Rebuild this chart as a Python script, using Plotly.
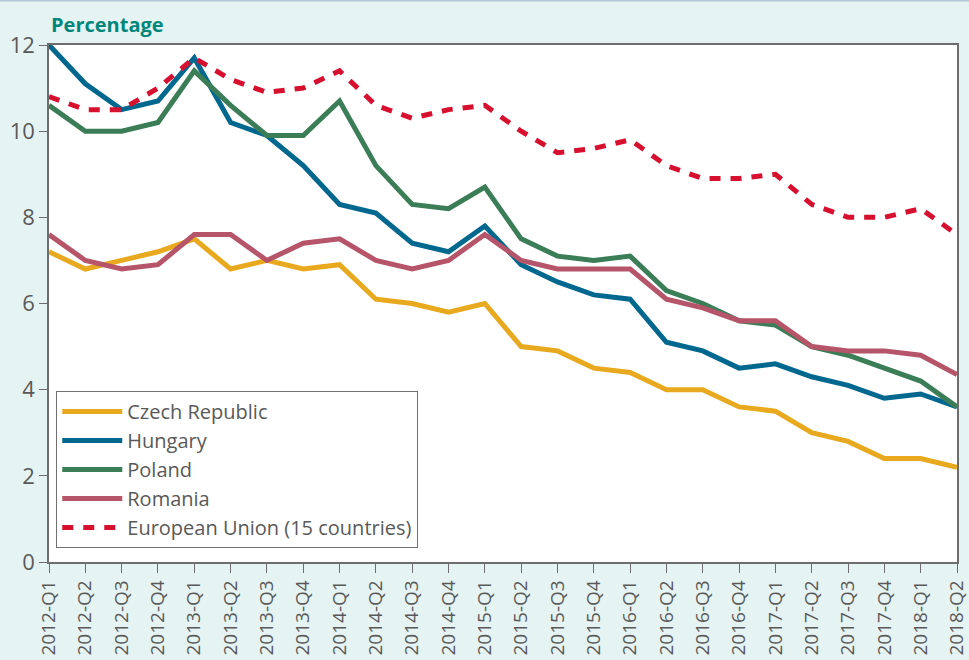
import plotly.graph_objects as go

quarters = [f"{y}-Q{q}" for y in range(2012, 2019) for q in range(1, 5)][:26]

czech = [7.2, 6.8, 7.0, 7.2, 7.5, 6.8, 7.0, 6.8, 6.9, 6.1, 6.0, 5.8, 6.0,
         5.0, 4.9, 4.5, 4.4, 4.0, 4.0, 3.6, 3.5, 3.0, 2.8, 2.4, 2.4, 2.2]
hungary = [12.0, 11.1, 10.5, 10.7, 11.7, 10.2, 9.9, 9.2, 8.3, 8.1, 7.4, 7.2, 7.8,
           6.9, 6.5, 6.2, 6.1, 5.1, 4.9, 4.5, 4.6, 4.3, 4.1, 3.8, 3.9, 3.6]
poland = [10.6, 10.0, 10.0, 10.2, 11.4, 10.6, 9.9, 9.9, 10.7, 9.2, 8.3, 8.2, 8.7,
          7.5, 7.1, 7.0, 7.1, 6.3, 6.0, 5.6, 5.5, 5.0, 4.8, 4.5, 4.2, 3.6]
romania = [7.6, 7.0, 6.8, 6.9, 7.6, 7.6, 7.0, 7.4, 7.5, 7.0, 6.8, 7.0, 7.6,
           7.0, 6.8, 6.8, 6.8, 6.1, 5.9, 5.6, 5.6, 5.0, 4.9, 4.9, 4.8, 4.35]
eu15 = [10.8, 10.5, 10.5, 11.0, 11.7, 11.2, 10.9, 11.0, 11.4, 10.6, 10.3, 10.5, 10.6,
        10.0, 9.5, 9.6, 9.8, 9.2, 8.9, 8.9, 9.0, 8.3, 8.0, 8.0, 8.2, 7.6]

series = [
    ("Czech Republic", czech, "#e9a91f", "solid"),
    ("Hungary", hungary, "#00678f", "solid"),
    ("Poland", poland, "#3a7d56", "solid"),
    ("Romania", romania, "#b65469", "solid"),
    ("European Union (15 countries)", eu15, "#d7102f", "11px,10px"),
]

FONT = "Open Sans"
GREY = "#595959"

fig = go.Figure()
for name, vals, color, dash in series:
    fig.add_trace(go.Scatter(
        x=quarters, y=vals, name=name, mode="lines",
        line=dict(color=color, width=5, dash=dash),
    ))

fig.update_layout(
    width=969, height=660,
    margin=dict(l=49, r=12, t=45, b=98),
    paper_bgcolor="#e6f3f3",
    plot_bgcolor="white",
    font=dict(family=FONT, color=GREY),
    showlegend=True,
    legend=dict(
        x=0.008, y=0.027, xanchor="left", yanchor="bottom",
        bgcolor="white", bordercolor="#707070", borderwidth=1,
        font=dict(size=20, color=GREY), tracegroupgap=0,
        itemwidth=60,
    ),
    xaxis=dict(
        type="category", range=[0, 25], automargin=False,
        showline=True, linecolor="#6d6d6d", linewidth=1.5, mirror=True,
        ticks="outside", ticklen=9, tickcolor="#6d6d6d",
        tickangle=-90, tickfont=dict(size=19, color=GREY),
        showgrid=False,
    ),
    yaxis=dict(
        range=[0, 12], tickvals=[0, 2, 4, 6, 8, 10, 12], automargin=False,
        showline=True, linecolor="#6d6d6d", linewidth=1.5, mirror=True,
        ticks="outside", ticklen=8, tickcolor="#6d6d6d",
        tickfont=dict(size=22, color=GREY),
        showgrid=False, zeroline=False,
    ),
    annotations=[dict(
        text="<b>Percentage</b>", xref="paper", yref="paper",
        x=0, y=1.039, xanchor="left", yanchor="middle", showarrow=False,
        font=dict(size=20, color="#00877c", family=FONT),
    )],
    shapes=[dict(
        type="line", xref="paper", yref="paper",
        x0=-0.06, x1=1.02, y0=1.086, y1=1.086,
        line=dict(color="#b4c7da", width=2),
    )],
)

fig.write_html("out.html")
